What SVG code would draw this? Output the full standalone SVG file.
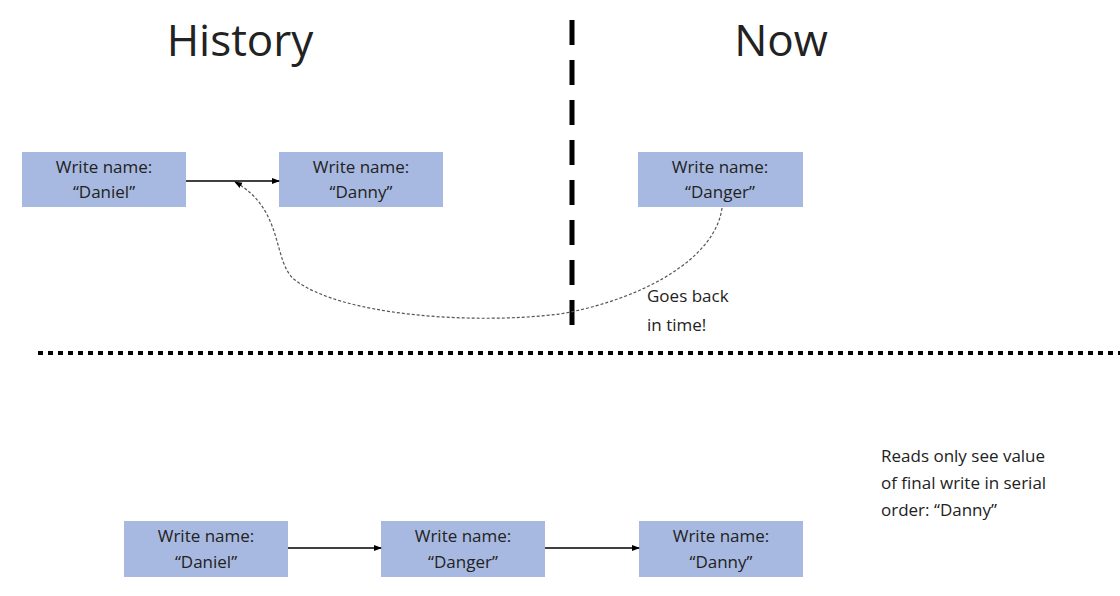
<svg xmlns="http://www.w3.org/2000/svg" width="1120" height="596" viewBox="0 0 1120 596">
<style>
text{font-family:"Open Sans","Liberation Sans",sans-serif;fill:#222}
.b{fill:#a7b9e0}
.t{font-size:17px;text-anchor:middle}
.c{stroke:#000;stroke-width:1.6;fill:none}
</style>
<defs><marker id="a" markerWidth="8" markerHeight="8" refX="7" refY="4" orient="auto" markerUnits="userSpaceOnUse"><path d="M0,1 L8,4 L0,7z" fill="#000"/></marker></defs>
<rect width="1120" height="596" fill="#fff"/>
<text x="240" y="56" font-size="44" text-anchor="middle">History</text>
<text x="781" y="56" font-size="44" text-anchor="middle">Now</text>
<line x1="572" y1="20" x2="572" y2="338" stroke="#000" stroke-width="5" stroke-dasharray="25,15"/>
<line x1="38" y1="353" x2="1120" y2="353" stroke="#000" stroke-width="4" stroke-dasharray="5,5"/>
<g id="h1"><rect class="b" x="22" y="152" width="164" height="55"/><text class="t" x="104" y="173">Write name:</text><text class="t" x="104" y="198">“Daniel”</text></g>
<g id="h2"><rect class="b" x="279" y="152" width="164" height="55"/><text class="t" x="361" y="173">Write name:</text><text class="t" x="361" y="198">“Danny”</text></g>
<g id="n1"><rect class="b" x="638" y="152" width="165" height="55"/><text class="t" x="720" y="173">Write name:</text><text class="t" x="720" y="198">“Danger”</text></g>
<g id="s1"><rect class="b" x="124" y="521" width="164" height="56"/><text class="t" x="206" y="542">Write name:</text><text class="t" x="206" y="568">“Daniel”</text></g>
<g id="s2"><rect class="b" x="381" y="521" width="164" height="56"/><text class="t" x="463" y="542">Write name:</text><text class="t" x="463" y="568">“Danger”</text></g>
<g id="s3"><rect class="b" x="639" y="521" width="164" height="56"/><text class="t" x="721" y="542">Write name:</text><text class="t" x="721" y="568">“Danny”</text></g>
<text x="647" y="302" font-size="17">Goes back</text>
<text x="647" y="331" font-size="17">in time!</text>
<text x="881" y="462" font-size="17">Reads only see value</text>
<text x="881" y="489" font-size="17">of final write in serial</text>
<text x="881" y="516" font-size="17">order: “Danny”</text>
<g id="connectors">
<line class="c" x1="186" y1="181" x2="279" y2="181" marker-end="url(#a)"/>
<path d="M722,208 C715,260 640,300 560,314 C470,325 340,315 295,280 C272,262 285,210 235,182" fill="none" stroke="#555" stroke-width="1.2" stroke-dasharray="3,2" marker-end="url(#a)"/>
<line class="c" x1="288" y1="548" x2="381" y2="548" marker-end="url(#a)"/>
<line class="c" x1="545" y1="548" x2="639" y2="548" marker-end="url(#a)"/>
</g>
</svg>
